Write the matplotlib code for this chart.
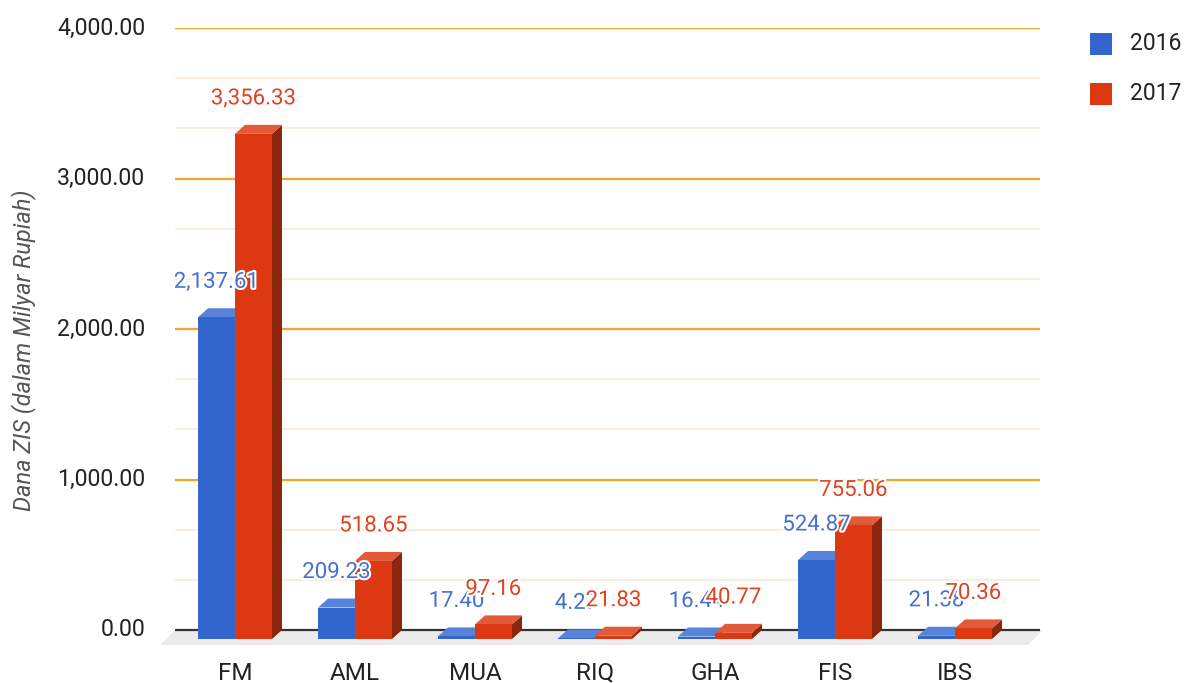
import matplotlib
matplotlib.use("Agg")
import matplotlib.pyplot as plt
from matplotlib.patches import Polygon, Rectangle
import matplotlib.patheffects as pe
import numpy as np

plt.rcParams['font.family'] = ['Roboto', 'DejaVu Sans']

categories = ["FM", "AML", "MUA", "RIQ", "GHA", "FIS", "IBS"]
values_2016 = [2137.61, 209.23, 17.40, 4.27, 16.44, 524.87, 21.38]
values_2017 = [3356.33, 518.65, 97.16, 21.83, 40.77, 755.06, 70.36]
labels_2016 = ["2,137.61", "209.23", "17.40", "4.27", "16.44", "524.87", "21.38"]
labels_2017 = ["3,356.33", "518.65", "97.16", "21.83", "40.77", "755.06", "70.36"]
series_names = ["2016", "2017"]
yticks = [0, 1000, 2000, 3000, 4000]
ytick_labels = ["0.00", "1,000.00", "2,000.00", "3,000.00", "4,000.00"]
ylabel = "Dana ZIS (dalam Milyar Rupiah)"

W, H, DPI = 1188, 683, 100
fig = plt.figure(figsize=(W / DPI, H / DPI), dpi=DPI)
# plot area in pixels: x 175..1040, y(top-origin) 28..630
left_px, right_px, top_px, bot_px = 175, 1040, 28, 630
ax = fig.add_axes([left_px / W, (H - bot_px) / H, (right_px - left_px) / W, (bot_px - top_px) / H])
ax.set_xlim(-0.5, -0.5 + (right_px - left_px) / 120.0)
ax.set_ylim(0, 4000)
ax.axis('off')

# pixel -> data conversions
px_x = (ax.get_xlim()[1] - ax.get_xlim()[0]) / (right_px - left_px)
px_y = 4000.0 / (bot_px - top_px)

# gridlines
for k in range(13):
    yv = k * 4000 / 12
    if k % 3 == 0 and k > 0:
        ax.plot([-0.5, ax.get_xlim()[1]], [yv, yv], color='#F4A428', lw=1.6, zorder=1, solid_capstyle='butt')
    elif k % 3 != 0:
        ax.plot([-0.5, ax.get_xlim()[1]], [yv, yv], color='#FBE9DA', lw=1.2, zorder=1, solid_capstyle='butt')

# floor
fd_x, fd_y = 15 * px_x, 15 * px_y
xl, xr = ax.get_xlim()
floor = Polygon([(xl, 0), (xr + 3 * px_x, 0), (xr + 3 * px_x - fd_x, -fd_y), (xl - fd_x, -fd_y)],
                closed=True, facecolor='#EBEBEB', edgecolor='none', zorder=2, clip_on=False)
ax.add_patch(floor)
ax.plot([xl, xr], [0, 0], color='#333333', lw=1.6, zorder=3, solid_capstyle='butt', clip_on=False)

# 3D bars
bw = 37 / 120.0
dx, dy = 10 * px_x, 9 * px_y
colors = {
    "2016": ('#3366CC', '#5883DA', '#24499A'),
    "2017": ('#DC3912', '#E25A3A', '#8C270D'),
}
x = np.arange(len(categories))

def draw_bar(x0, v, cols, z):
    front, top, side = cols
    ax.add_patch(Polygon([(x0 + bw, -dy), (x0 + bw, v - dy), (x0 + bw + dx, v), (x0 + bw + dx, 0)],
                         closed=True, facecolor=side, edgecolor='none', zorder=z, clip_on=False))
    ax.add_patch(Polygon([(x0, v - dy), (x0 + bw, v - dy), (x0 + bw + dx, v), (x0 + dx, v)],
                         closed=True, facecolor=top, edgecolor='none', zorder=z, clip_on=False))
    ax.add_patch(Rectangle((x0, -dy), bw, v, facecolor=front, edgecolor='none', zorder=z + 0.1, clip_on=False))

for i in range(len(categories)):
    draw_bar(x[i] - bw, values_2016[i], colors["2016"], 4 + i)
    draw_bar(x[i], values_2017[i], colors["2017"], 4.5 + i)

halo = [pe.withStroke(linewidth=3, foreground='white')]
for i in range(len(categories)):
    ax.annotate(labels_2016[i], (x[i] - bw / 2, values_2016[i]), xytext=(0, 26), textcoords='offset pixels',
                ha='center', va='center', fontsize=16, color='#4670D0', path_effects=halo, zorder=20)
    ax.annotate(labels_2017[i], (x[i] + bw / 2, values_2017[i]), xytext=(0, 26), textcoords='offset pixels',
                ha='center', va='center', fontsize=16, color='#DD4423', path_effects=halo, zorder=21)

# category labels
for i, c in enumerate(categories):
    ax.annotate(c, (x[i], 0), xytext=(0, -43), textcoords='offset pixels', ha='center', va='center',
                fontsize=17.5, color='#222222', annotation_clip=False)

# y tick labels
for t, lab in zip(yticks, ytick_labels):
    ax.annotate(lab, (xl, t), xytext=(-30, 0), textcoords='offset pixels', ha='right', va='center',
                fontsize=16.7, color='#222222', annotation_clip=False)

fig.text(24 / W, 1 - 350 / H, ylabel, rotation=90, ha='center', va='center', fontsize=17,
         style='italic', color='#555555')

# legend
for j, name in enumerate(series_names):
    yc = 1 - (44 + j * 50) / H
    fig.patches.append(Rectangle((1090 / W, yc - 11 / H), 22 / W, 22 / H, transform=fig.transFigure,
                                 facecolor=colors[name][0], edgecolor='none'))
    fig.text(1130 / W, yc, name, ha='left', va='center', fontsize=16.5, color='#222222')

fig.savefig("out.png", dpi=DPI, facecolor='white')
